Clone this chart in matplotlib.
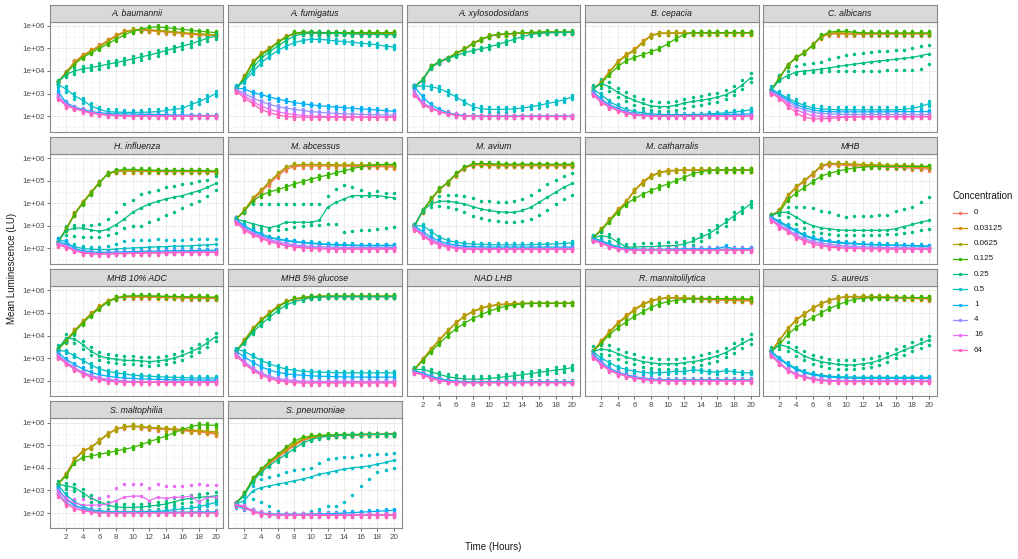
import numpy as np
import matplotlib
matplotlib.use("Agg")
import matplotlib.pyplot as plt
from matplotlib.ticker import FixedLocator, NullFormatter
from matplotlib.lines import Line2D

plt.rcParams['font.family'] = ['Liberation Sans', 'DejaVu Sans']

hours = np.arange(1, 21)
concentrations = ["0", "0.03125", "0.0625", "0.125", "0.25", "0.5", "1", "4", "16", "64"]
colors = ["#F8766D", "#D89000", "#A3A500", "#39B600", "#00BF7D",
          "#00BFC4", "#00B0F6", "#9590FF", "#E76BF3", "#FF62BC"]
x_ticks = [2, 4, 6, 8, 10, 12, 14, 16, 18, 20]
y_ticks = [1e2, 1e3, 1e4, 1e5, 1e6]
y_tick_labels = ["1e+02", "1e+03", "1e+04", "1e+05", "1e+06"]

# log10 of mean luminescence, hours 1..20
a_baumannii = {
    "0":       "3.50 3.95 4.40 4.70 4.90  5.12 5.35 5.57 5.74 5.80  5.80 5.78 5.76 5.72 5.70  5.66 5.62 5.60 5.58 5.56",
    "0.03125": "3.50 3.95 4.38 4.68 4.90  5.10 5.33 5.55 5.73 5.80  5.82 5.80 5.77 5.74 5.71  5.68 5.64 5.62 5.60 5.58",
    "0.0625":  "3.50 3.90 4.35 4.65 4.87  5.08 5.30 5.52 5.72 5.82  5.85 5.83 5.80 5.77 5.74  5.70 5.67 5.65 5.62 5.60",
    "0.125":   "3.50 3.90 4.30 4.60 4.80  5.00 5.20 5.40 5.60 5.75  5.85 5.93 5.95 5.92 5.88  5.84 5.80 5.76 5.73 5.70",
    "0.25":    "3.50 3.85 4.00 4.10 4.15  4.22 4.30 4.37 4.45 4.53  4.62 4.70 4.80 4.90 5.00  5.10 5.20 5.32 5.45 5.55",
    "0.5":     "3.40 3.20 2.90 2.70 2.45  2.30 2.20 2.18 2.17 2.17  2.17 2.18 2.20 2.25 2.30  2.35 2.50 2.65 2.80 3.00",
    "1":       "3.10 2.60 2.40 2.30 2.20  2.15 2.12 2.10 2.10 2.10  2.08 2.08 2.07 2.06 2.05  2.05 2.04 2.03 2.02 2.02",
    "4":       "2.90 2.55 2.38 2.27 2.17  2.10 2.06 2.04 2.03 2.02  2.02 2.02 2.01 2.01 2.00  2.00 2.00 2.00 2.00 2.00",
    "16":      "2.85 2.50 2.35 2.25 2.15  2.10 2.05 2.03 2.02 2.02  2.01 2.01 2.00 2.00 2.00  2.00 2.00 2.00 2.00 2.00",
    "64":      "2.80 2.45 2.33 2.23 2.13  2.08 2.04 2.02 2.01 2.00  2.00 2.00 2.00 2.00 2.00  1.99 1.99 1.99 1.99 1.99",
}
a_fumigatus = {
    "0":       "3.20 3.75 4.40 4.75 5.00  5.28 5.50 5.65 5.68 5.68  5.67 5.66 5.66 5.66 5.66  5.66 5.66 5.66 5.66 5.65",
    "0.03125": "3.20 3.75 4.40 4.75 5.00  5.28 5.52 5.66 5.70 5.69  5.68 5.67 5.67 5.67 5.67  5.67 5.67 5.67 5.67 5.66",
    "0.0625":  "3.20 3.72 4.38 4.73 4.98  5.26 5.50 5.66 5.70 5.70  5.69 5.68 5.68 5.68 5.68  5.68 5.68 5.68 5.68 5.68",
    "0.125":   "3.20 3.70 4.35 4.70 4.95  5.25 5.50 5.68 5.72 5.72  5.70 5.70 5.70 5.70 5.70  5.70 5.70 5.70 5.70 5.70",
    "0.25":    "3.20 3.60 4.15 4.55 4.85  5.10 5.35 5.55 5.65 5.68  5.68 5.67 5.66 5.65 5.64  5.63 5.62 5.62 5.61 5.60",
    "0.5":     "3.30 3.55 3.95 4.35 4.65  4.90 5.10 5.25 5.35 5.40  5.40 5.37 5.33 5.30 5.27  5.23 5.20 5.15 5.10 5.06",
    "1":       "3.25 3.20 3.05 2.95 2.85  2.75 2.68 2.60 2.55 2.50  2.46 2.43 2.40 2.38 2.35  2.32 2.30 2.27 2.24 2.22",
    "4":       "3.20 3.00 2.80 2.65 2.52  2.42 2.35 2.30 2.25 2.20  2.17 2.14 2.12 2.10 2.09  2.08 2.07 2.06 2.05 2.05",
    "16":      "3.15 2.90 2.65 2.45 2.30  2.20 2.12 2.07 2.03 2.00  1.99 1.98 1.97 1.97 1.97  1.97 1.97 1.97 1.97 1.97",
    "64":      "3.10 2.80 2.55 2.30 2.15  2.05 1.98 1.96 1.95 1.95  1.95 1.95 1.95 1.95 1.95  1.95 1.95 1.95 1.95 1.95",
}
a_xylosodosidans = {
    "0":       "3.30 3.60 4.18 4.40 4.54  4.76 4.94 5.20 5.38 5.53  5.60 5.62 5.65 5.67 5.68  5.69 5.70 5.70 5.71 5.70",
    "0.03125": "3.30 3.60 4.18 4.40 4.56  4.78 4.96 5.22 5.40 5.54  5.61 5.63 5.66 5.68 5.69  5.70 5.71 5.71 5.72 5.71",
    "0.0625":  "3.30 3.62 4.18 4.42 4.57  4.79 4.97 5.22 5.40 5.55  5.62 5.64 5.66 5.68 5.70  5.71 5.72 5.72 5.72 5.72",
    "0.125":   "3.30 3.62 4.20 4.42 4.56  4.78 4.95 5.20 5.38 5.54  5.62 5.64 5.67 5.69 5.70  5.72 5.73 5.73 5.73 5.73",
    "0.25":    "3.30 3.60 4.15 4.40 4.55  4.68 4.80 4.90 4.98 5.06  5.17 5.28 5.40 5.52 5.62  5.66 5.69 5.70 5.71 5.71",
    "0.5":     "3.30 3.35 3.30 3.22 3.05  2.85 2.63 2.42 2.33 2.30  2.30 2.30 2.32 2.36 2.41  2.48 2.56 2.63 2.72 2.85",
    "1":       "3.30 2.85 2.50 2.30 2.15  2.07 2.03 2.01 2.00 2.00  2.00 2.00 2.00 2.00 2.00  2.00 2.00 2.00 2.00 2.00",
    "4":       "3.10 2.60 2.38 2.22 2.12  2.05 2.02 2.00 2.00 2.00  2.00 2.00 2.00 2.00 2.00  2.00 2.00 2.00 2.00 2.00",
    "16":      "3.00 2.55 2.35 2.20 2.10  2.05 2.00 2.00 1.99 1.99  1.99 1.99 1.99 1.99 1.99  1.99 1.99 1.99 1.99 1.99",
    "64":      "2.95 2.50 2.33 2.20 2.10  2.04 2.00 1.99 1.98 1.98  1.98 1.98 1.98 1.98 1.98  1.98 1.98 1.98 1.98 1.98",
}
b_cepacia = {
    "0":       "3.20 3.50 3.95 4.40 4.70  4.92 5.28 5.57 5.66 5.67  5.67 5.67 5.67 5.67 5.67  5.67 5.67 5.67 5.67 5.67",
    "0.03125": "3.20 3.50 3.97 4.42 4.72  4.95 5.30 5.58 5.67 5.68  5.68 5.68 5.68 5.68 5.68  5.68 5.68 5.68 5.68 5.68",
    "0.0625":  "3.20 3.48 3.95 4.38 4.68  4.90 5.25 5.55 5.66 5.68  5.68 5.68 5.68 5.68 5.68  5.68 5.68 5.68 5.68 5.68",
    "0.125":   "3.20 3.45 3.85 4.20 4.45  4.60 4.72 4.85 4.99 5.20  5.43 5.62 5.69 5.70 5.70  5.70 5.70 5.70 5.70 5.70",
    "0.25":    "3.20 3.45 3.30 3.05 2.85  2.70 2.56 2.46 2.42 2.42  2.48 2.58 2.65 2.70 2.76  2.84 2.95 3.12 3.38 3.70",
    "0.5":     "3.20 2.95 2.65 2.45 2.30  2.20 2.15 2.10 2.08 2.07  2.07 2.07 2.07 2.08 2.10  2.12 2.15 2.18 2.22 2.28",
    "1":       "3.10 2.75 2.50 2.35 2.20  2.12 2.07 2.04 2.03 2.03  2.03 2.03 2.03 2.04 2.05  2.07 2.08 2.08 2.09 2.10",
    "4":       "3.05 2.70 2.45 2.30 2.18  2.10 2.05 2.02 2.01 2.01  2.01 2.01 2.01 2.01 2.01  2.01 2.01 2.01 2.01 2.01",
    "16":      "3.00 2.65 2.42 2.28 2.15  2.08 2.03 2.01 2.00 2.00  2.00 2.00 2.00 2.00 2.00  2.00 2.00 2.00 2.00 2.00",
    "64":      "2.95 2.60 2.40 2.25 2.12  2.05 2.02 2.00 2.00 2.00  2.00 2.00 2.00 2.00 2.00  2.00 2.00 2.00 2.00 2.00",
}
c_albicans = {
    "0":       "3.15 3.70 4.25 4.60 4.80  5.13 5.50 5.63 5.64 5.63  5.63 5.63 5.63 5.63 5.63  5.64 5.64 5.64 5.64 5.64",
    "0.03125": "3.15 3.70 4.25 4.60 4.82  5.15 5.50 5.65 5.66 5.65  5.65 5.65 5.65 5.65 5.65  5.65 5.65 5.65 5.65 5.65",
    "0.0625":  "3.15 3.70 4.25 4.60 4.82  5.15 5.52 5.67 5.70 5.68  5.67 5.67 5.67 5.67 5.67  5.67 5.67 5.67 5.67 5.67",
    "0.125":   "3.15 3.70 4.25 4.60 4.80  5.13 5.55 5.72 5.76 5.75  5.72 5.69 5.68 5.68 5.68  5.68 5.68 5.68 5.68 5.68",
    "0.25":    "3.15 3.60 3.80 3.95 4.00  4.03 4.08 4.14 4.20 4.25  4.30 4.35 4.40 4.44 4.48  4.52 4.56 4.60 4.68 4.76",
    "0.5":     "3.20 3.00 2.80 2.62 2.47  2.37 2.32 2.30 2.28 2.28  2.28 2.28 2.28 2.28 2.28  2.28 2.30 2.35 2.43 2.55",
    "1":       "3.15 2.95 2.72 2.52 2.37  2.27 2.22 2.20 2.19 2.19  2.19 2.19 2.19 2.19 2.19  2.20 2.20 2.20 2.20 2.20",
    "4":       "3.10 2.90 2.65 2.42 2.27  2.17 2.12 2.10 2.08 2.07  2.07 2.07 2.07 2.07 2.07  2.07 2.07 2.07 2.07 2.07",
    "16":      "3.05 2.85 2.55 2.30 2.12  2.02 1.98 1.97 1.97 1.97  1.98 1.98 1.98 1.98 1.98  1.98 1.98 1.98 1.98 1.98",
    "64":      "3.00 2.80 2.45 2.15 1.95  1.88 1.88 1.90 1.93 1.95  1.96 1.97 1.97 1.97 1.97  1.97 1.97 1.97 1.97 1.97",
}
h_influenza = {
    "0":       "2.28 2.87 3.53 4.04 4.49  4.93 5.30 5.40 5.42 5.42  5.42 5.41 5.41 5.40 5.40  5.40 5.40 5.40 5.39 5.38",
    "0.03125": "2.28 2.87 3.53 4.04 4.49  4.93 5.30 5.41 5.43 5.43  5.43 5.42 5.42 5.41 5.41  5.41 5.41 5.41 5.40 5.40",
    "0.0625":  "2.28 2.86 3.52 4.03 4.48  4.92 5.30 5.42 5.45 5.45  5.45 5.44 5.44 5.43 5.43  5.43 5.43 5.43 5.42 5.42",
    "0.125":   "2.28 2.85 3.50 4.00 4.45  4.90 5.30 5.45 5.50 5.50  5.48 5.47 5.46 5.45 5.45  5.45 5.45 5.45 5.44 5.43",
    "0.25":    "2.30 2.80 2.90 2.90 2.82  2.76 2.85 3.05 3.30 3.60  3.80 3.97 4.08 4.19 4.27  4.34 4.45 4.56 4.70 4.88",
    "0.5":     "2.30 2.20 2.08 2.00 1.96  1.95 1.95 1.97 2.00 2.02  2.04 2.05 2.07 2.08 2.10  2.10 2.12 2.14 2.16 2.18",
    "1":       "2.40 2.30 2.00 1.90 1.85  1.83 1.83 1.84 1.85 1.86  1.87 1.88 1.88 1.89 1.90  1.90 1.90 1.91 1.92 1.92",
    "4":       "2.25 2.15 1.95 1.85 1.80  1.78 1.78 1.80 1.80 1.81  1.82 1.83 1.83 1.84 1.84  1.85 1.85 1.85 1.85 1.85",
    "16":      "2.20 2.10 1.92 1.82 1.78  1.77 1.77 1.78 1.78 1.79  1.80 1.80 1.81 1.82 1.82  1.83 1.83 1.83 1.83 1.83",
    "64":      "2.15 2.05 1.90 1.80 1.76  1.75 1.75 1.76 1.77 1.78  1.79 1.80 1.80 1.81 1.81  1.82 1.82 1.82 1.82 1.82",
}
m_abcessus = {
    "0":       "3.30 3.65 4.15 4.50 4.85  5.20 5.50 5.62 5.65 5.65  5.65 5.65 5.65 5.65 5.64  5.63 5.62 5.62 5.61 5.60",
    "0.03125": "3.30 3.68 4.20 4.56 4.93  5.28 5.58 5.68 5.70 5.70  5.70 5.70 5.69 5.68 5.68  5.67 5.67 5.66 5.65 5.64",
    "0.0625":  "3.30 3.70 4.22 4.58 4.95  5.30 5.60 5.70 5.72 5.72  5.72 5.71 5.70 5.70 5.70  5.70 5.70 5.70 5.70 5.69",
    "0.125":   "3.30 3.65 4.10 4.35 4.50  4.60 4.72 4.85 4.96 5.07  5.16 5.25 5.35 5.44 5.53  5.62 5.68 5.70 5.72 5.72",
    "0.25":    "3.31 3.20 3.09 3.00 2.91  3.01 3.16 3.16 3.16 3.16  3.24 3.82 4.04 4.19 4.34  4.34 4.34 4.34 4.29 4.24",
    "0.5":     "3.30 3.00 2.80 2.65 2.50  2.42 2.36 2.31 2.27 2.24  2.21 2.19 2.17 2.16 2.15  2.14 2.14 2.14 2.14 2.14",
    "1":       "3.30 2.98 2.78 2.62 2.48  2.40 2.34 2.29 2.25 2.22  2.19 2.17 2.15 2.14 2.13  2.12 2.12 2.12 2.12 2.12",
    "4":       "3.25 2.90 2.70 2.55 2.40  2.30 2.22 2.16 2.12 2.09  2.07 2.06 2.05 2.04 2.04  2.04 2.04 2.04 2.04 2.04",
    "16":      "3.20 2.85 2.65 2.50 2.35  2.25 2.17 2.11 2.07 2.04  2.02 2.01 2.00 2.00 2.00  2.00 2.00 2.00 2.00 2.00",
    "64":      "3.15 2.80 2.60 2.45 2.30  2.20 2.12 2.06 2.02 2.00  1.98 1.97 1.97 1.97 1.97  1.97 1.97 1.97 1.97 1.97",
}
m_avium = {
    "0":       "3.00 3.65 4.15 4.60 4.90  5.25 5.55 5.68 5.70 5.68  5.66 5.66 5.66 5.66 5.66  5.66 5.66 5.66 5.66 5.66",
    "0.03125": "3.00 3.66 4.17 4.61 4.91  5.27 5.57 5.70 5.72 5.70  5.68 5.68 5.68 5.68 5.68  5.68 5.68 5.68 5.68 5.68",
    "0.0625":  "3.00 3.67 4.18 4.62 4.92  5.28 5.58 5.72 5.74 5.72  5.70 5.70 5.70 5.70 5.70  5.70 5.70 5.70 5.70 5.70",
    "0.125":   "3.00 3.68 4.19 4.63 4.93  5.30 5.60 5.74 5.76 5.75  5.74 5.73 5.73 5.73 5.73  5.73 5.73 5.73 5.73 5.73",
    "0.25":    "3.00 3.68 3.97 4.09 4.09  4.04 3.97 3.85 3.75 3.68  3.63 3.60 3.60 3.68 3.82  4.04 4.26 4.49 4.71 4.88",
    "0.5":     "3.00 3.00 2.75 2.50 2.35  2.28 2.22 2.20 2.18 2.17  2.16 2.16 2.16 2.16 2.17  2.18 2.19 2.20 2.22 2.25",
    "1":       "3.00 2.75 2.50 2.33 2.22  2.15 2.10 2.08 2.07 2.06  2.06 2.06 2.06 2.06 2.06  2.06 2.06 2.06 2.06 2.06",
    "4":       "2.95 2.65 2.40 2.25 2.15  2.08 2.04 2.02 2.01 2.00  2.00 2.00 2.00 2.00 2.00  2.00 2.00 2.00 2.00 2.00",
    "16":      "2.90 2.60 2.35 2.20 2.10  2.03 2.00 1.99 1.98 1.98  1.98 1.98 1.98 1.98 1.98  1.98 1.98 1.98 1.98 1.98",
    "64":      "2.85 2.55 2.30 2.15 2.05  2.00 1.97 1.96 1.96 1.96  1.96 1.96 1.96 1.96 1.96  1.96 1.96 1.96 1.96 1.96",
}
m_catharralis = {
    "0":       "2.46 2.82 3.24 3.68 4.04  4.56 4.93 5.20 5.35 5.42  5.45 5.46 5.46 5.46 5.46  5.46 5.46 5.46 5.46 5.46",
    "0.03125": "2.46 2.84 3.26 3.70 4.06  4.58 4.95 5.22 5.37 5.44  5.46 5.47 5.47 5.47 5.47  5.47 5.47 5.47 5.47 5.47",
    "0.0625":  "2.46 2.83 3.25 3.68 4.05  4.55 4.90 5.18 5.34 5.42  5.45 5.47 5.47 5.47 5.47  5.47 5.47 5.47 5.47 5.47",
    "0.125":   "2.46 2.80 3.20 3.60 3.97  4.20 4.40 4.56 4.72 4.85  5.00 5.15 5.30 5.40 5.45  5.47 5.47 5.47 5.47 5.47",
    "0.25":    "2.46 2.57 2.50 2.28 2.06  2.06 2.08 2.08 2.10 2.12  2.13 2.20 2.32 2.50 2.65  2.90 3.16 3.45 3.70 3.97",
    "0.5":     "2.46 2.35 2.20 2.08 2.00  1.97 1.96 1.96 1.96 1.96  1.96 1.96 1.96 1.96 1.96  1.96 1.96 1.96 1.97 1.98",
    "1":       "2.44 2.30 2.15 2.04 1.98  1.96 1.95 1.95 1.95 1.96  1.97 1.98 1.98 1.98 1.98  2.00 2.08 1.98 1.98 2.00",
    "4":       "2.40 2.28 2.12 2.02 1.96  1.94 1.94 1.94 1.94 1.94  1.94 1.94 1.94 1.94 1.94  1.94 1.94 1.94 1.94 1.94",
    "16":      "2.38 2.25 2.10 2.00 1.95  1.93 1.93 1.93 1.93 1.93  1.93 1.93 1.93 1.93 1.93  1.93 1.93 1.93 1.93 1.93",
    "64":      "2.35 2.22 2.08 1.98 1.94  1.92 1.92 1.92 1.92 1.92  1.92 1.92 1.92 1.92 1.92  1.92 1.92 1.92 1.92 1.92",
}
mhb = {
    "0":       "3.46 3.66 4.30 4.68 4.97  5.27 5.62 5.72 5.70 5.68  5.66 5.65 5.63 5.62 5.60  5.59 5.57 5.55 5.53 5.51",
    "0.03125": "3.46 3.68 4.34 4.71 5.00  5.30 5.66 5.76 5.74 5.72  5.70 5.68 5.67 5.66 5.64  5.63 5.62 5.60 5.58 5.57",
    "0.0625":  "3.46 3.68 4.34 4.72 5.02  5.32 5.66 5.77 5.76 5.75  5.74 5.72 5.71 5.70 5.69  5.68 5.67 5.66 5.64 5.63",
    "0.125":   "3.46 3.60 4.15 4.45 4.70  4.95 5.20 5.32 5.42 5.50  5.56 5.60 5.62 5.63 5.63  5.63 5.63 5.63 5.63 5.63",
    "0.25":    "3.46 3.60 3.60 3.38 3.16  3.01 2.91 2.87 2.82 2.80  2.80 2.80 2.80 2.80 2.82  2.87 2.97 3.06 3.16 3.24",
    "0.5":     "3.40 3.20 3.00 2.80 2.60  2.47 2.38 2.32 2.28 2.25  2.22 2.20 2.18 2.17 2.16  2.15 2.14 2.13 2.12 2.10",
    "1":       "3.40 3.15 2.95 2.75 2.55  2.43 2.35 2.30 2.25 2.22  2.20 2.18 2.16 2.15 2.14  2.13 2.12 2.11 2.10 2.10",
    "4":       "3.35 3.05 2.85 2.60 2.45  2.32 2.24 2.18 2.14 2.11  2.09 2.07 2.06 2.05 2.04  2.03 2.03 2.02 2.02 2.02",
    "16":      "3.30 3.00 2.80 2.55 2.38  2.25 2.17 2.11 2.07 2.05  2.03 2.02 2.01 2.00 2.00  2.00 2.00 2.00 1.99 1.99",
    "64":      "3.25 2.95 2.75 2.50 2.33  2.20 2.12 2.06 2.03 2.01  2.00 1.99 1.98 1.98 1.97  1.97 1.97 1.97 1.96 1.96",
}
mhb_10_adc = {
    "0":       "3.40 3.80 4.20 4.60 4.95  5.25 5.50 5.65 5.70 5.70  5.70 5.70 5.69 5.68 5.67  5.66 5.65 5.65 5.64 5.64",
    "0.03125": "3.40 3.80 4.22 4.62 4.97  5.27 5.52 5.67 5.72 5.72  5.72 5.72 5.71 5.70 5.69  5.68 5.67 5.67 5.66 5.66",
    "0.0625":  "3.40 3.78 4.20 4.60 4.95  5.25 5.52 5.68 5.73 5.74  5.74 5.74 5.73 5.72 5.71  5.70 5.70 5.69 5.69 5.68",
    "0.125":   "3.40 3.75 4.15 4.55 4.90  5.20 5.48 5.66 5.74 5.76  5.76 5.76 5.75 5.74 5.73  5.72 5.72 5.71 5.71 5.70",
    "0.25":    "3.40 3.90 3.85 3.60 3.30  3.10 3.00 2.95 2.90 2.90  2.88 2.85 2.88 2.92 3.00  3.12 3.28 3.45 3.68 3.95",
    "0.5":     "3.35 3.30 3.10 2.90 2.70  2.52 2.42 2.35 2.30 2.25  2.22 2.20 2.18 2.16 2.15  2.14 2.13 2.12 2.12 2.12",
    "1":       "3.25 2.95 2.72 2.52 2.37  2.27 2.20 2.15 2.12 2.10  2.08 2.07 2.06 2.05 2.04  2.04 2.04 2.03 2.03 2.03",
    "4":       "3.15 2.85 2.58 2.38 2.23  2.13 2.06 2.02 1.99 1.97  1.96 1.96 1.96 1.96 1.96  1.96 1.96 1.96 1.96 1.96",
    "16":      "3.10 2.80 2.55 2.35 2.20  2.10 2.03 1.99 1.96 1.95  1.95 1.95 1.95 1.95 1.95  1.95 1.95 1.95 1.95 1.95",
    "64":      "3.05 2.75 2.50 2.30 2.15  2.05 1.98 1.95 1.93 1.93  1.93 1.93 1.93 1.93 1.93  1.93 1.93 1.93 1.93 1.93",
}
mhb_5_glucose = {
    "0":       "3.30 3.80 4.30 4.70 5.00  5.30 5.50 5.60 5.65 5.70  5.72 5.72 5.72 5.72 5.72  5.72 5.72 5.72 5.72 5.72",
    "0.03125": "3.30 3.80 4.30 4.70 5.00  5.30 5.50 5.62 5.67 5.71  5.73 5.73 5.73 5.73 5.73  5.73 5.73 5.73 5.73 5.73",
    "0.0625":  "3.30 3.78 4.28 4.68 4.98  5.28 5.50 5.62 5.68 5.72  5.74 5.74 5.74 5.74 5.74  5.74 5.74 5.74 5.74 5.74",
    "0.125":   "3.30 3.75 4.25 4.65 4.95  5.25 5.48 5.62 5.68 5.72  5.74 5.75 5.75 5.75 5.75  5.75 5.75 5.75 5.75 5.75",
    "0.25":    "3.30 3.70 4.15 4.50 4.80  5.10 5.35 5.50 5.60 5.67  5.70 5.72 5.72 5.72 5.72  5.72 5.72 5.72 5.72 5.72",
    "0.5":     "3.40 3.30 3.10 2.90 2.75  2.62 2.52 2.46 2.42 2.40  2.38 2.37 2.36 2.35 2.35  2.35 2.35 2.35 2.35 2.35",
    "1":       "3.30 3.05 2.82 2.62 2.47  2.37 2.31 2.27 2.24 2.22  2.20 2.19 2.18 2.17 2.17  2.16 2.16 2.16 2.16 2.16",
    "4":       "3.20 2.85 2.55 2.35 2.20  2.10 2.04 2.00 1.98 1.97  1.97 1.97 1.97 1.97 1.97  1.97 1.97 1.97 1.97 1.97",
    "16":      "3.15 2.80 2.50 2.30 2.15  2.05 2.00 1.97 1.95 1.94  1.94 1.94 1.94 1.94 1.94  1.94 1.94 1.94 1.94 1.94",
    "64":      "3.10 2.75 2.45 2.25 2.10  2.00 1.95 1.92 1.90 1.90  1.90 1.90 1.90 1.90 1.90  1.90 1.90 1.90 1.90 1.90",
}
nad_lhb = {
    "0":       "2.50 2.95 3.40 3.80 4.20  4.55 4.85 5.05 5.20 5.30  5.35 5.38 5.40 5.42 5.42  5.42 5.42 5.42 5.42 5.42",
    "0.03125": "2.50 2.95 3.40 3.82 4.22  4.57 4.87 5.07 5.22 5.32  5.37 5.40 5.42 5.43 5.43  5.43 5.43 5.43 5.43 5.43",
    "0.0625":  "2.50 2.93 3.38 3.80 4.20  4.55 4.85 5.05 5.20 5.30  5.36 5.39 5.41 5.42 5.43  5.43 5.43 5.43 5.43 5.43",
    "0.125":   "2.50 2.90 3.30 3.65 4.00  4.30 4.55 4.75 4.92 5.08  5.20 5.30 5.36 5.40 5.42  5.43 5.43 5.43 5.43 5.43",
    "0.25":    "2.50 2.50 2.40 2.28 2.18  2.12 2.08 2.07 2.07 2.10  2.14 2.18 2.22 2.27 2.32  2.37 2.42 2.47 2.52 2.58",
    "0.5":     "2.45 2.35 2.20 2.10 2.02  1.98 1.96 1.95 1.95 1.95  1.95 1.95 1.95 1.95 1.95  1.95 1.95 1.96 1.96 1.96",
    "1":       "2.42 2.32 2.18 2.08 2.00  1.96 1.94 1.94 1.94 1.94  1.94 1.94 1.94 1.94 1.94  1.94 1.94 1.94 1.94 1.94",
    "4":       "2.40 2.30 2.15 2.05 1.98  1.95 1.93 1.93 1.93 1.93  1.93 1.93 1.93 1.93 1.93  1.93 1.93 1.93 1.93 1.93",
    "16":      "2.38 2.28 2.13 2.03 1.97  1.94 1.92 1.92 1.92 1.92  1.92 1.92 1.92 1.92 1.92  1.92 1.92 1.92 1.92 1.92",
    "64":      "2.35 2.25 2.10 2.00 1.95  1.92 1.91 1.91 1.91 1.91  1.91 1.91 1.91 1.91 1.91  1.91 1.91 1.91 1.91 1.91",
}
r_mannitolilytica = {
    "0":       "3.30 3.75 4.15 4.55 4.85  5.15 5.38 5.53 5.62 5.66  5.66 5.64 5.62 5.60 5.58  5.57 5.56 5.55 5.54 5.53",
    "0.03125": "3.30 3.75 4.17 4.57 4.87  5.17 5.40 5.55 5.64 5.68  5.68 5.66 5.64 5.62 5.60  5.59 5.58 5.57 5.56 5.55",
    "0.0625":  "3.30 3.72 4.12 4.52 4.82  5.12 5.36 5.52 5.62 5.67  5.68 5.67 5.66 5.65 5.64  5.63 5.62 5.61 5.60 5.60",
    "0.125":   "3.30 3.65 4.05 4.35 4.60  4.85 5.05 5.25 5.40 5.50  5.56 5.60 5.62 5.63 5.63  5.63 5.63 5.63 5.62 5.62",
    "0.25":    "3.30 3.40 3.35 3.20 3.05  2.95 2.85 2.80 2.75 2.75  2.75 2.80 2.85 2.90 3.00  3.10 3.25 3.45 3.65 3.85",
    "0.5":     "3.30 3.00 2.80 2.60 2.50  2.42 2.37 2.35 2.35 2.38  2.42 2.40 2.48 2.45 2.40  2.38 2.45 2.40 2.36 2.35",
    "1":       "3.20 2.85 2.55 2.38 2.27  2.18 2.12 2.08 2.06 2.05  2.04 2.04 2.04 2.04 2.04  2.04 2.04 2.04 2.04 2.04",
    "4":       "3.15 2.80 2.50 2.35 2.25  2.15 2.10 2.05 2.03 2.02  2.01 2.01 2.01 2.01 2.01  2.01 2.01 2.01 2.01 2.01",
    "16":      "3.10 2.75 2.48 2.32 2.22  2.13 2.08 2.04 2.02 2.00  2.00 2.00 2.00 2.00 2.00  2.00 2.00 2.00 2.00 2.00",
    "64":      "3.05 2.70 2.45 2.30 2.20  2.10 2.05 2.02 2.00 1.99  1.99 1.99 1.99 1.99 1.99  1.99 1.99 1.99 1.99 1.99",
}
s_aureus = {
    "0":       "3.30 3.80 4.30 4.70 4.95  5.20 5.40 5.55 5.65 5.70  5.70 5.70 5.70 5.68 5.67  5.66 5.65 5.64 5.63 5.62",
    "0.03125": "3.30 3.80 4.30 4.70 4.97  5.22 5.42 5.57 5.67 5.72  5.72 5.72 5.72 5.70 5.69  5.68 5.67 5.66 5.65 5.64",
    "0.0625":  "3.30 3.78 4.28 4.68 4.95  5.20 5.40 5.56 5.66 5.72  5.73 5.73 5.73 5.72 5.71  5.70 5.69 5.68 5.67 5.66",
    "0.125":   "3.30 3.60 4.05 4.35 4.60  4.80 5.00 5.20 5.35 5.50  5.60 5.65 5.67 5.68 5.68  5.68 5.68 5.68 5.68 5.68",
    "0.25":    "3.30 3.60 3.50 3.30 3.10  2.95 2.85 2.78 2.72 2.70  2.70 2.75 2.80 2.90 3.05  3.20 3.35 3.50 3.65 3.80",
    "0.5":     "3.30 3.00 2.75 2.55 2.40  2.30 2.25 2.20 2.18 2.17  2.16 2.15 2.15 2.15 2.15  2.15 2.15 2.15 2.15 2.15",
    "1":       "3.28 2.95 2.70 2.50 2.35  2.26 2.20 2.16 2.14 2.12  2.11 2.10 2.10 2.10 2.10  2.10 2.10 2.10 2.10 2.10",
    "4":       "3.20 2.80 2.50 2.30 2.20  2.10 2.05 2.02 2.01 2.00  2.00 2.00 2.00 2.00 2.00  2.00 2.00 2.00 2.00 2.00",
    "16":      "3.15 2.78 2.48 2.28 2.18  2.08 2.03 2.00 1.99 1.98  1.98 1.98 1.98 1.98 1.98  1.98 1.98 1.98 1.98 1.98",
    "64":      "3.10 2.75 2.45 2.25 2.15  2.05 2.00 1.98 1.97 1.96  1.96 1.96 1.96 1.96 1.96  1.96 1.96 1.96 1.96 1.96",
}
s_maltophilia = {
    "0":       "3.28 3.72 4.38 4.75 4.90  5.19 5.49 5.70 5.80 5.83  5.80 5.75 5.72 5.70 5.68  5.65 5.62 5.60 5.55 5.50",
    "0.03125": "3.28 3.72 4.38 4.75 4.92  5.21 5.51 5.72 5.82 5.85  5.82 5.78 5.75 5.72 5.70  5.67 5.64 5.62 5.58 5.54",
    "0.0625":  "3.28 3.70 4.35 4.72 4.90  5.19 5.49 5.70 5.82 5.85  5.83 5.80 5.77 5.75 5.72  5.70 5.68 5.66 5.63 5.60",
    "0.125":   "3.28 3.65 4.24 4.46 4.53  4.60 4.67 4.75 4.82 4.90  5.02 5.16 5.28 5.41 5.55  5.70 5.82 5.90 5.90 5.88",
    "0.25":    "3.28 3.20 3.13 2.90 2.65  2.50 2.35 2.27 2.25 2.25  2.27 2.30 2.35 2.40 2.50  2.60 2.65 2.70 2.72 2.76",
    "0.5":     "3.25 2.80 2.50 2.30 2.15  2.10 2.07 2.05 2.05 2.05  2.06 2.07 2.08 2.10 2.15  2.18 2.22 2.28 2.37 2.47",
    "1":       "3.10 2.60 2.35 2.20 2.10  2.05 2.04 2.04 2.04 2.04  2.04 2.04 2.04 2.04 2.04  2.04 2.04 2.05 2.05 2.05",
    "4":       "2.90 2.45 2.30 2.15 2.10  2.05 2.03 2.02 2.02 2.02  2.02 2.02 2.02 2.02 2.02  2.02 2.02 2.02 2.02 2.02",
    "16":      "3.00 2.60 2.45 2.35 2.35  2.35 2.40 2.55 2.70 2.75  2.75 2.55 2.70 2.65 2.70  2.70 2.75 2.50 2.70 2.70",
    "64":      "2.80 2.40 2.20 2.10 2.05  2.00 2.00 2.00 2.00 2.00  2.00 2.00 2.00 2.00 2.00  2.00 2.00 2.00 2.00 2.00",
}
s_pneumoniae = {
    "0":       "2.43 2.84 3.45 3.85 4.18  4.45 4.72 4.98 5.20 5.32  5.38 5.40 5.42 5.44 5.45  5.46 5.47 5.48 5.48 5.49",
    "0.03125": "2.43 2.84 3.48 3.88 4.22  4.50 4.78 5.02 5.24 5.34  5.39 5.41 5.43 5.45 5.46  5.47 5.48 5.48 5.49 5.49",
    "0.0625":  "2.43 2.85 3.50 3.92 4.26  4.55 4.84 5.08 5.28 5.36  5.40 5.42 5.44 5.45 5.46  5.47 5.48 5.48 5.49 5.49",
    "0.125":   "2.43 2.86 3.52 3.94 4.28  4.60 4.90 5.19 5.34 5.41  5.44 5.46 5.47 5.48 5.48  5.49 5.49 5.49 5.49 5.49",
    "0.25":    "2.43 2.80 3.40 3.80 4.10  4.35 4.60 4.85 5.10 5.25  5.35 5.40 5.43 5.45 5.46  5.47 5.48 5.48 5.49 5.49",
    "0.5":     "2.40 2.55 2.99 3.13 3.20  3.28 3.35 3.43 3.50 3.60  3.72 3.79 3.87 3.94 4.01  4.04 4.09 4.16 4.24 4.34",
    "1":       "2.30 2.20 2.10 2.00 1.97  1.95 1.95 1.95 1.95 1.95  1.96 1.97 1.98 2.00 2.02  2.04 2.06 2.08 2.10 2.12",
    "4":       "2.40 2.30 2.10 2.00 1.95  1.92 1.92 1.92 1.92 1.92  1.92 1.92 1.92 1.92 1.92  1.92 1.92 1.92 1.92 1.92",
    "16":      "2.38 2.28 2.08 1.98 1.93  1.91 1.91 1.91 1.91 1.91  1.91 1.91 1.91 1.91 1.91  1.91 1.91 1.91 1.91 1.91",
    "64":      "2.35 2.25 2.05 1.96 1.92  1.90 1.90 1.90 1.90 1.90  1.90 1.90 1.90 1.90 1.90  1.90 1.90 1.90 1.90 1.90",
}

organisms = ["A. baumannii", "A. fumigatus", "A. xylosodosidans", "B. cepacia", "C. albicans",
             "H. influenza", "M. abcessus", "M. avium", "M. catharralis", "MHB",
             "MHB 10% ADC", "MHB 5% glucose", "NAD LHB", "R. mannitolilytica", "S. aureus",
             "S. maltophilia", "S. pneumoniae"]
panel_data = [a_baumannii, a_fumigatus, a_xylosodosidans, b_cepacia, c_albicans,
              h_influenza, m_abcessus, m_avium, m_catharralis, mhb,
              mhb_10_adc, mhb_5_glucose, nad_lhb, r_mannitolilytica, s_aureus,
              s_maltophilia, s_pneumoniae]

# replicate scatter: (upper, lower) log10 values for widely dispersed series
replicates = {
    ("H. influenza", "0.25"): ("2.35 3.00 3.05 3.05 3.05  3.10 3.30 3.60 3.95 4.15  4.40 4.50 4.60 4.70 4.78  4.85 4.90 5.00 5.05 5.20",
                               "2.25 2.60 2.55 2.50 2.50  2.50 2.60 2.70 2.90 3.00  3.00 3.15 3.30 3.50 3.60  3.80 3.95 4.10 4.30 4.60"),
    ("H. influenza", "0.5"): ("2.45 2.35 2.20 2.10 2.05  2.05 2.10 2.20 2.35 2.38  2.38 2.38 2.40 2.38 2.38  2.38 2.40 2.40 2.40 2.40",
                              "2.20 2.10 1.95 1.88 1.85  1.85 1.85 1.85 1.85 1.88  1.90 1.90 1.92 1.93 1.95  1.95 1.96 1.97 1.98 1.98"),
    ("M. abcessus", "0.25"): ("3.35 3.60 3.97 3.97 3.97  3.97 3.97 3.97 3.97 3.97  3.97 4.30 4.63 4.82 4.71  4.60 4.45 4.55 4.45 4.45",
                              "3.28 3.10 2.95 2.85 2.80  2.80 2.85 2.95 3.00 3.05  3.05 3.10 3.10 2.75 2.78  2.80 2.82 2.85 2.90 2.97"),
    ("M. avium", "0.25"): ("3.05 3.75 4.10 4.30 4.35  4.35 4.30 4.25 4.10 4.10  4.05 4.05 4.10 4.20 4.35  4.60 4.85 5.05 5.20 5.35",
                           "2.95 3.60 3.85 3.90 3.85  3.75 3.60 3.45 3.35 3.25  3.20 3.15 3.15 3.20 3.30  3.50 3.70 3.95 4.20 4.35"),
    ("C. albicans", "0.25"): ("3.20 3.80 4.00 4.20 4.32  4.35 4.40 4.54 4.60 4.70  4.75 4.80 4.85 4.90 4.90  4.95 4.95 5.00 5.10 5.15",
                              "3.10 3.55 3.75 3.85 3.90  3.95 3.95 4.00 4.00 4.00  4.00 4.00 4.02 4.02 4.04  4.05 4.05 4.06 4.08 4.30"),
    ("MHB", "0.25"): ("3.50 3.70 3.85 3.82 3.82  3.80 3.65 3.60 3.46 3.41  3.43 3.43 3.45 3.47 3.50  3.65 3.75 3.85 4.04 4.26",
                      "3.42 3.50 3.40 3.10 2.90  2.75 2.68 2.62 2.60 2.60  2.58 2.58 2.60 2.60 2.62  2.65 2.70 2.75 2.80 2.85"),
    ("S. maltophilia", "16"): ("3.05 2.70 2.60 2.60 2.65  2.65 2.75 3.13 3.28 3.28  3.28 3.10 3.30 3.20 3.20  3.20 3.25 3.28 3.25 3.25",
                               "2.90 2.40 2.20 2.10 2.05  2.05 2.05 2.05 2.05 2.05  2.05 2.05 2.05 2.05 2.05  2.05 2.05 2.05 2.05 2.00"),
    ("S. pneumoniae", "0.5"): ("2.45 2.70 3.20 3.50 3.60  3.70 3.80 3.90 3.95 4.00  4.20 4.40 4.45 4.50 4.50  4.55 4.55 4.60 4.60 4.65",
                               "2.35 2.45 2.60 2.50 2.30  2.10 2.00 2.00 2.00 2.10  2.20 2.30 2.30 2.50 2.80  3.20 3.50 3.80 3.90 4.00"),
}
# half-spread (log10) of the replicate points for other series
spread_default = 0.07
spreads = {
    ("A. baumannii", "0.25"): 0.12, ("A. baumannii", "0.5"): 0.12,
    ("B. cepacia", "0.25"): 0.2, ("M. catharralis", "0.25"): 0.15,
    ("MHB 10% ADC", "0.25"): 0.18, ("R. mannitolilytica", "0.25"): 0.22,
    ("S. aureus", "0.25"): 0.2, ("S. maltophilia", "0.25"): 0.15,
    ("A. xylosodosidans", "0.5"): 0.1, ("C. albicans", "0.5"): 0.12,
    ("NAD LHB", "0.25"): 0.12,
}


def vals(s):
    a = np.array(s.split(), dtype=float)
    assert a.size == 20
    return a


W, H = 1018, 559
fig = plt.figure(figsize=(W / 100, H / 100), dpi=100)
fig.patch.set_facecolor("white")


def px_axes(x0, y0, w, h, **kw):
    return fig.add_axes([x0 / W, 1 - (y0 + h) / H, w / W, h / H], **kw)


ncol = 5
col_left = [50, 228.3, 406.6, 585, 763.3]
panel_w = 173.5
strip_h = 17
plot_h = 110
row_pitch = 132.3
y_lo, y_hi = 10 ** 1.32, 10 ** 6.19
border_col = "#8a8a8a"
pt_size = 2.5

for i, (org, data) in enumerate(zip(organisms, panel_data)):
    r, c = divmod(i, ncol)
    st = 4.5 + row_pitch * r
    ax = px_axes(col_left[c], st + strip_h, panel_w, plot_h)
    sax = px_axes(col_left[c], st, panel_w, strip_h)
    sax.set_xticks([]); sax.set_yticks([])
    sax.set_facecolor("#D9D9D9")
    for sp in sax.spines.values():
        sp.set_color(border_col); sp.set_linewidth(0.8)
    sax.text(0.5, 0.45, org, ha="center", va="center", style="italic",
             fontsize=6.3, color="#1A1A1A", transform=sax.transAxes)

    ax.set_yscale("log")
    ax.set_xlim(0.05, 20.95)
    ax.set_ylim(y_lo, y_hi)
    ax.set_xticks(x_ticks)
    ax.xaxis.set_minor_locator(FixedLocator(np.arange(1, 21, 2)))
    ax.yaxis.set_major_locator(FixedLocator(y_ticks))
    ax.yaxis.set_minor_locator(FixedLocator([10 ** 1.5, 10 ** 2.5, 10 ** 3.5, 10 ** 4.5, 10 ** 5.5]))
    ax.yaxis.set_minor_formatter(NullFormatter())
    ax.grid(True, which="major", color="#EBEBEB", lw=0.7, zorder=0)
    ax.grid(True, which="minor", color="#F2F2F2", lw=0.4, zorder=0)
    ax.set_axisbelow(True)
    for sp in ax.spines.values():
        sp.set_color(border_col); sp.set_linewidth(0.8)
    ax.tick_params(which="minor", length=0)
    ax.tick_params(which="major", length=2.5, width=0.6, color="#555555",
                   labelsize=5.8, labelcolor="#4D4D4D", pad=1.5)

    bottom = (r == 3) or (r == 2 and c >= 2)
    if not bottom:
        ax.tick_params(axis="x", length=0, labelbottom=False)
    if c == 0:
        ax.set_yticklabels(y_tick_labels)
    else:
        ax.tick_params(axis="y", length=0, labelleft=False)

    # replicate points
    for k, conc in enumerate(concentrations):
        mean = vals(data[conc])
        if (org, conc) in replicates:
            up, lo = replicates[(org, conc)]
            reps = [vals(up), mean, vals(lo)]
        else:
            s = spreads.get((org, conc), spread_default)
            reps = [mean + s, mean, mean - s]
        for rep in reps:
            ax.plot(hours, 10 ** rep, ls="none", marker="o", ms=pt_size, mew=0,
                    color=colors[k], zorder=2 + k * 0.01)
    # mean lines
    for k, conc in enumerate(concentrations):
        mean = vals(data[conc])
        ax.plot(hours, 10 ** mean, color=colors[k], lw=0.9, zorder=3 + k * 0.01)

# overlay for labels & legend
ov = fig.add_axes([0, 0, 1, 1], zorder=10)
ov.set_xlim(0, W); ov.set_ylim(H, 0); ov.axis("off")
ov.text(493.5, 547, "Time (Hours)", ha="center", va="center", fontsize=7, color="#1A1A1A")
ov.text(12, 268, "Mean Luminescence (LU)", ha="center", va="center", rotation=90,
        fontsize=7, color="#1A1A1A")
ov.text(953, 196, "Concentration", ha="left", va="center", fontsize=7, color="#1A1A1A")
for k, conc in enumerate(concentrations):
    y = 213 + k * 15.25
    ov.add_line(Line2D([953, 967], [y, y], color=colors[k], lw=0.9))
    ov.plot([960], [y], marker="o", ms=pt_size, mew=0, color=colors[k])
    ov.text(974, y, conc, ha="left", va="center", fontsize=5.8, color="#1A1A1A")

fig.savefig("out.png", dpi=100, facecolor="white")
